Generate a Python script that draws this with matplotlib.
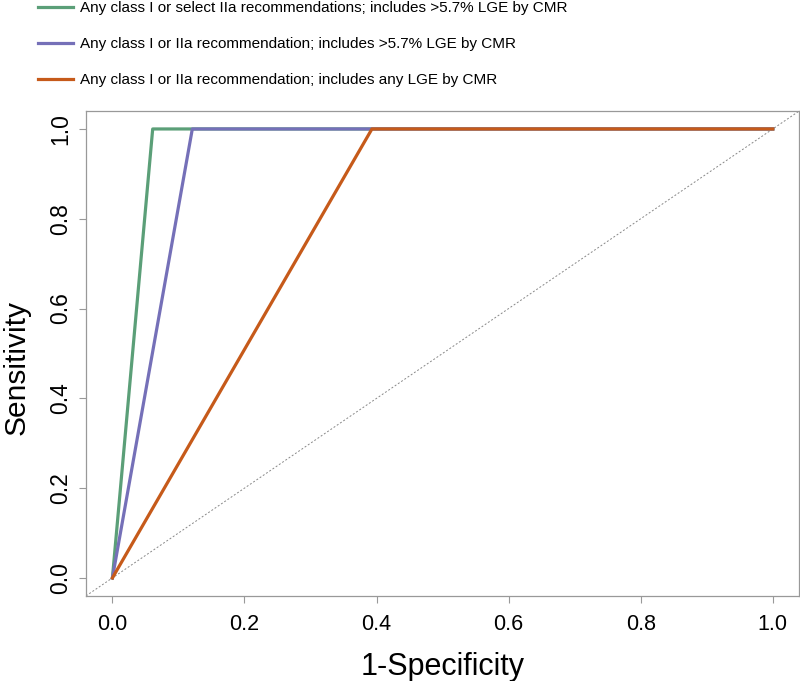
import numpy as np
import matplotlib.pyplot as plt

# ROC curves (1-specificity, sensitivity)
fpr_green = [0.0, 0.061, 1.0]
tpr_green = [0.0, 1.0, 1.0]
fpr_purple = [0.0, 0.121, 1.0]
tpr_purple = [0.0, 1.0, 1.0]
fpr_orange = [0.0, 0.393, 1.0]
tpr_orange = [0.0, 1.0, 1.0]

labels = ["Any class I or select IIa recommendations; includes >5.7% LGE by CMR",
          "Any class I or IIa recommendation; includes >5.7% LGE by CMR",
          "Any class I or IIa recommendation; includes any LGE by CMR"]
colors = ["#5b9f78", "#7570b8", "#c65a1a"]
ticks = [0.0, 0.2, 0.4, 0.6, 0.8, 1.0]

plt.rcParams['font.family'] = ['Liberation Sans', 'DejaVu Sans']

fig = plt.figure(figsize=(8, 6.81), dpi=100)
ax = fig.add_axes([0.1075, 0.125, 0.8915, 0.712])

ax.axline((0, 0), (1, 1), color="#888888", lw=0.7, ls=(0, (2, 2)), zorder=1)
lines = []
for fx, ty, c, lab in zip([fpr_green, fpr_purple, fpr_orange],
                          [tpr_green, tpr_purple, tpr_orange], colors, labels):
    l, = ax.plot(fx, ty, color=c, lw=2.3, label=lab, zorder=3)
    lines.append(l)

ax.set_xlim(-0.04, 1.04)
ax.set_ylim(-0.04, 1.04)
ax.set_xticks(ticks)
ax.set_yticks(ticks)
ax.set_xticklabels([f"{t:.1f}" for t in ticks], fontsize=15.5)
ax.set_yticklabels([f"{t:.1f}" for t in ticks], fontsize=16.5, rotation=90, va='center')
ax.tick_params(axis='both', direction='out', length=5, width=0.8, color="#999999", pad=8)
ax.tick_params(axis='y', pad=5)
for s in ax.spines.values():
    s.set_color("#999999")
    s.set_linewidth(0.9)

ax.set_xlabel("1-Specificity", fontsize=22, labelpad=12)
ax.set_ylabel("Sensitivity", fontsize=21.5)
ax.yaxis.set_label_coords(-0.077, 0.47)

fig.legend(handles=lines, labels=labels, loc='upper left',
           bbox_to_anchor=(38/800, 1 - 1/681), frameon=False, fontsize=11,
           handlelength=2.3, handletextpad=0.45, labelspacing=1.45,
           borderpad=0, borderaxespad=0)

fig.savefig("out.png", dpi=100)
